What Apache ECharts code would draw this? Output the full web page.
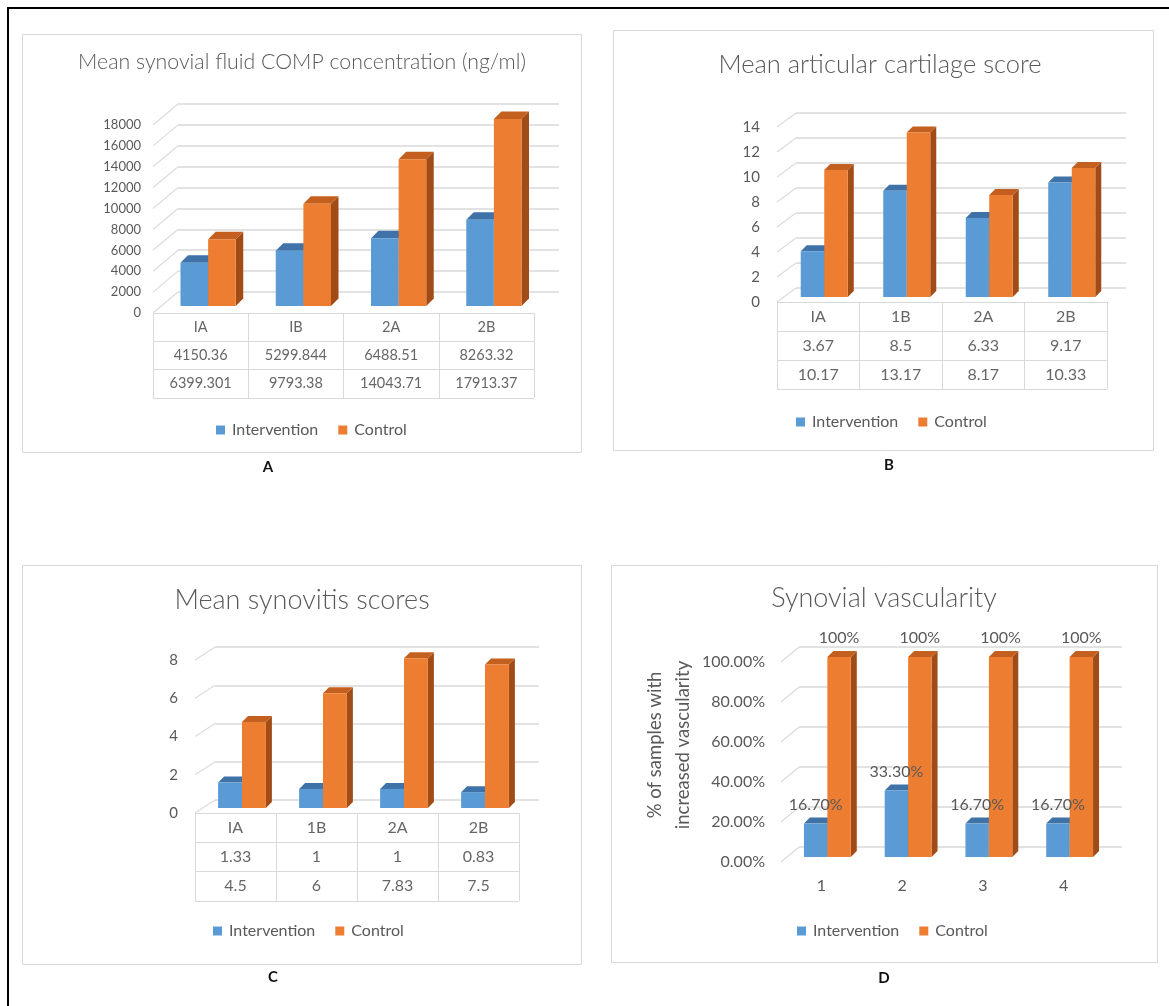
<!DOCTYPE html>
<html>
<head>
<meta charset="utf-8">
<script src="https://cdn.jsdelivr.net/npm/echarts@6/dist/echarts.min.js"></script>
<style>
  html, body { margin: 0; padding: 0; background: #ffffff; }
  #chart { width: 1169px; height: 1006px; }
</style>
</head>
<body>
<div id="chart"></div>
<script>
// ---- A: mean synovial fluid COMP concentration (ng/ml)
const compCategories = ['IA', 'IB', '2A', '2B'];
const compIntervention = [4150.36, 5299.844, 6488.51, 8263.32];
const compControl = [6399.301, 9793.38, 14043.71, 17913.37];
const compTicks = [0, 2000, 4000, 6000, 8000, 10000, 12000, 14000, 16000, 18000];

// ---- B: mean articular cartilage score
const cartCategories = ['IA', '1B', '2A', '2B'];
const cartIntervention = [3.67, 8.5, 6.33, 9.17];
const cartControl = [10.17, 13.17, 8.17, 10.33];
const cartTicks = [0, 2, 4, 6, 8, 10, 12, 14];

// ---- C: mean synovitis scores
const synCategories = ['IA', '1B', '2A', '2B'];
const synIntervention = [1.33, 1, 1, 0.83];
const synControl = [4.5, 6, 7.83, 7.5];
const synTicks = [0, 2, 4, 6, 8];

// ---- D: synovial vascularity (% of samples)
const vascCategories = ['1', '2', '3', '4'];
const vascIntervention = [16.7, 33.3, 16.7, 16.7];
const vascControl = [100, 100, 100, 100];
const vascTicks = [0, 20, 40, 60, 80, 100];

const seriesNames = ['Intervention', 'Control'];

const FONT = 'Lato, "Open Sans", "DejaVu Sans", sans-serif';
const TEXT_GRAY = '#595959';
const GRID_GRAY = '#d9d9d9';

// face colours of the 3-D columns: front, top, side
const faces = [
  { front: '#5b9bd5', top: '#3f72a6', side: '#2f5c88' },
  { front: '#ed7d31', top: '#c4601f', side: '#a14c16' }
];

// layout of each panel (front plane of the plot, depth of the back wall, column geometry)
const panels = [
  {
    title: 'Mean synovial fluid COMP concentration (ng/ml)', titleSize: 21.3, titleCenter: [302, 62],
    box: [22, 34, 559, 418], letter: ['A', 268, 467],
    cats: compCategories, values: [compIntervention, compControl], ticks: compTicks,
    front: { left: 153, top: 125, width: 381, height: 188 }, wall: [25, -21],
    bar: { dx: 7.5, dy: -7, depth: 7.5, frac: 0.29 },
    tickSize: 13, tickMargin: 12, tickFmt: v => String(v),
    table: { rowH: 28.3, size: 14.5 },
    legend: { left: 211, top: 417 }
  },
  {
    title: 'Mean articular cartilage score', titleSize: 25.5, titleCenter: [880, 65],
    box: [613, 30, 540, 420], letter: ['B', 889, 465],
    cats: cartCategories, values: [cartIntervention, cartControl], ticks: cartTicks,
    front: { left: 777, top: 127, width: 330, height: 175 }, wall: [19, -14],
    bar: { dx: 6, dy: -5, depth: 6, frac: 0.285 },
    tickSize: 15, tickMargin: 17, tickFmt: v => String(v),
    table: { rowH: 29, size: 16 },
    legend: { left: 791, top: 409 }
  },
  {
    title: 'Mean synovitis scores', titleSize: 27, titleCenter: [302, 600],
    box: [22, 565, 559, 399], letter: ['C', 273, 977],
    cats: synCategories, values: [synIntervention, synControl], ticks: synTicks,
    front: { left: 195, top: 660, width: 324, height: 153 }, wall: [20, -13],
    bar: { dx: 6.5, dy: -5, depth: 6, frac: 0.295 },
    tickSize: 15, tickMargin: 17, tickFmt: v => String(v),
    table: { rowH: 29.3, size: 16 },
    legend: { left: 208, top: 918 }
  },
  {
    title: 'Synovial vascularity', titleSize: 27, titleCenter: [884, 598],
    box: [611, 565, 546, 397], letter: ['D', 884, 978],
    cats: vascCategories, values: [vascIntervention, vascControl], ticks: vascTicks,
    front: { left: 781, top: 662, width: 323, height: 200 }, wall: [18, -15],
    bar: { dx: 6, dy: -5, depth: 6, frac: 0.29 },
    tickSize: 16, tickMargin: 16, tickFmt: v => v.toFixed(2) + '%',
    catLabels: true,
    valueLabels: [v => v.toFixed(2) + '%', v => v + '%'],
    axisTitle: { text: '% of samples with\nincreased vascularity', x: 669, y: 745 },
    legend: { left: 792, top: 918 }
  }
];

const option = {
  backgroundColor: '#ffffff',
  animation: false,
  textStyle: { fontFamily: FONT },
  grid: [], xAxis: [], yAxis: [], series: [], legend: [], graphic: []
};

function addGrid(g, xAxis, yAxis) {
  const idx = option.grid.length;
  option.grid.push(Object.assign({ outerBoundsMode: 'none', containLabel: false }, g));
  option.xAxis.push(Object.assign({ gridIndex: idx }, xAxis));
  option.yAxis.push(Object.assign({ gridIndex: idx }, yAxis));
  return idx;
}

// column geometry of one series inside a category band
function columnBox(p, s, api, i, v) {
  const base = api.coord([i, 0]);
  const tip = api.coord([i, v]);
  const w = api.size([1, 0])[0] * p.bar.frac;
  const x0 = base[0] + p.bar.dx + (s === 0 ? -w : 0);
  return { x0: x0, x1: x0 + w, yb: base[1] + p.bar.dy, yt: tip[1] + p.bar.dy };
}

panels.forEach(p => {
  const yMin = p.ticks[0];
  const yMax = p.ticks[p.ticks.length - 1];
  const step = p.ticks[1] - p.ticks[0];
  const hiddenCat = { type: 'category', data: p.cats, show: false };

  // back wall carrying the horizontal grid lines
  addGrid(
    { left: p.front.left + p.wall[0], top: p.front.top + p.wall[1], width: p.front.width, height: p.front.height },
    hiddenCat,
    {
      type: 'value', min: yMin, max: yMax, interval: step,
      axisLabel: { show: false }, axisLine: { show: false }, axisTick: { show: false },
      splitLine: { show: true, lineStyle: { color: GRID_GRAY, width: 1.5 } }
    }
  );

  // front plane: value labels, category positions and the columns
  const gFront = addGrid(
    { left: p.front.left, top: p.front.top, width: p.front.width, height: p.front.height },
    {
      type: 'category', data: p.cats, boundaryGap: true,
      axisLine: { show: false }, axisTick: { show: false }, splitLine: { show: false },
      axisLabel: { show: !!p.catLabels, color: TEXT_GRAY, fontSize: 16, margin: 16, fontFamily: FONT }
    },
    {
      type: 'value', min: yMin, max: yMax, interval: step,
      axisLine: { show: false }, axisTick: { show: false }, splitLine: { show: false },
      axisLabel: { color: TEXT_GRAY, fontSize: p.tickSize, margin: p.tickMargin, fontFamily: FONT, formatter: p.tickFmt }
    }
  );

  // side-wall edges joining each front tick to its back grid line
  option.series.push({
    type: 'custom', name: 'wall edges', xAxisIndex: gFront, yAxisIndex: gFront, silent: true, z: 1,
    data: p.ticks.map(t => [0, t]),
    renderItem: (params, api) => {
      const y = api.coord([0, api.value(1)])[1];
      const x = params.coordSys.x;
      return {
        type: 'line',
        shape: { x1: x, y1: y, x2: x + p.wall[0], y2: y + p.wall[1] },
        style: { stroke: '#dcdcdc', lineWidth: 1.2 }
      };
    }
  });

  // the 3-D columns
  p.values.forEach((vals, s) => {
    const c = faces[s];
    option.series.push({
      type: 'custom', name: seriesNames[s], xAxisIndex: gFront, yAxisIndex: gFront, z: 2 + s,
      itemStyle: { color: c.front },
      data: vals.map((v, i) => [i, v]),
      renderItem: (params, api) => {
        const b = columnBox(p, s, api, api.value(0), api.value(1));
        const d = p.bar.depth;
        return {
          type: 'group',
          children: [
            { type: 'polygon', shape: { points: [[b.x1, b.yb], [b.x1, b.yt], [b.x1 + d, b.yt - d], [b.x1 + d, b.yb - d]] }, style: { fill: c.side } },
            { type: 'polygon', shape: { points: [[b.x0, b.yt], [b.x1, b.yt], [b.x1 + d, b.yt - d], [b.x0 + d, b.yt - d]] }, style: { fill: c.top } },
            { type: 'rect', shape: { x: b.x0, y: b.yt, width: b.x1 - b.x0, height: b.yb - b.yt }, style: { fill: c.front } }
          ]
        };
      }
    });
  });

  // value labels above the columns
  if (p.valueLabels) {
    p.values.forEach((vals, s) => {
      option.series.push({
        type: 'custom', name: seriesNames[s] + ' labels', xAxisIndex: gFront, yAxisIndex: gFront, z: 5, silent: true,
        data: vals.map((v, i) => [i, v]),
        renderItem: (params, api) => {
          const v = api.value(1);
          const b = columnBox(p, s, api, api.value(0), v);
          return {
            type: 'text', x: (b.x0 + b.x1) / 2, y: b.yt - 11,
            style: { text: p.valueLabels[s](v), fill: TEXT_GRAY, font: '16px ' + FONT, textAlign: 'center', textVerticalAlign: 'bottom' }
          };
        }
      });
    });
  }

  // data table under the plot: category row, then one row per series
  if (p.table) {
    const rows = ['cat'].concat(seriesNames);
    const gTable = addGrid(
      { left: p.front.left, top: p.front.top + p.front.height, width: p.front.width, height: p.table.rowH * rows.length },
      {
        type: 'category', data: p.cats, boundaryGap: true,
        axisLine: { show: false }, axisTick: { show: false }, axisLabel: { show: false },
        splitLine: { show: true, lineStyle: { color: GRID_GRAY, width: 1 } }
      },
      {
        type: 'category', data: rows, inverse: true, boundaryGap: true,
        axisLine: { show: false }, axisTick: { show: false }, axisLabel: { show: false },
        splitLine: { show: true, lineStyle: { color: GRID_GRAY, width: 1 } }
      }
    );
    const cells = [];
    p.cats.forEach((cat, i) => {
      cells.push({ value: [i, 0], name: cat });
      p.values.forEach((vals, s) => cells.push({ value: [i, s + 1], name: String(vals[i]) }));
    });
    option.series.push({
      type: 'scatter', name: 'table', xAxisIndex: gTable, yAxisIndex: gTable, silent: true,
      symbolSize: 0, data: cells,
      label: { show: true, position: 'inside', formatter: '{b}', color: '#404040', fontSize: p.table.size, fontFamily: FONT }
    });
  }

  option.legend.push({
    left: p.legend.left, top: p.legend.top, orient: 'horizontal',
    data: seriesNames, icon: 'rect', itemWidth: 9, itemHeight: 9, itemGap: 20, selectedMode: false,
    textStyle: { color: TEXT_GRAY, fontSize: 16, fontFamily: FONT, padding: [0, 0, 0, 2] }
  });

  // chart frame, title and panel letter
  option.graphic.push({
    type: 'rect', silent: true, z: -10,
    shape: { x: p.box[0] + 0.5, y: p.box[1] + 0.5, width: p.box[2], height: p.box[3] },
    style: { fill: '#ffffff', stroke: GRID_GRAY, lineWidth: 1 }
  });
  option.graphic.push({
    type: 'text', silent: true, x: p.titleCenter[0], y: p.titleCenter[1],
    style: { text: p.title, fill: TEXT_GRAY, font: '300 ' + p.titleSize + 'px ' + FONT, textAlign: 'center', textVerticalAlign: 'middle' }
  });
  option.graphic.push({
    type: 'text', silent: true, x: p.letter[1], y: p.letter[2],
    style: { text: p.letter[0], fill: '#111111', font: 'bold 15px ' + FONT, textAlign: 'center', textVerticalAlign: 'middle' }
  });
  if (p.axisTitle) {
    option.graphic.push({
      type: 'text', silent: true, x: p.axisTitle.x, y: p.axisTitle.y, rotation: Math.PI / 2,
      style: { text: p.axisTitle.text, fill: TEXT_GRAY, font: '18.5px ' + FONT, lineHeight: 28, textAlign: 'center', textVerticalAlign: 'middle' }
    });
  }
});

// outer figure border
option.graphic.push({
  type: 'rect', silent: true, z: -20,
  shape: { x: 8, y: 8, width: 1400, height: 1200 },
  style: { fill: 'none', stroke: '#000000', lineWidth: 2 }
});

const chart = echarts.init(document.getElementById('chart'), null, { renderer: 'canvas' });
chart.setOption(option);
</script>
</body>
</html>
